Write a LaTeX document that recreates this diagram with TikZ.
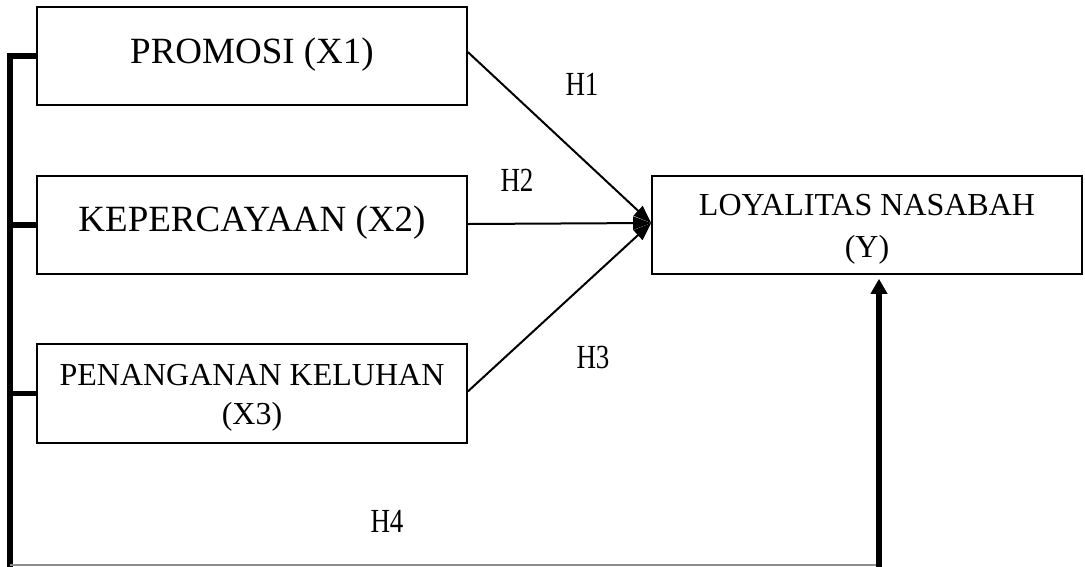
\documentclass[tikz,border=0pt]{standalone}
\usepackage{fontspec}
\setmainfont{Liberation Serif}
\usetikzlibrary{arrows.meta}
\newcommand{\tallH}[1]{\scalebox{1}[1.25]{#1}}
\begin{document}
\begin{tikzpicture}[x=1pt,y=-1pt,
  box/.style={draw, line width=1.6pt, rectangle, minimum width=430pt,
    minimum height=98pt, inner sep=0pt},
  bigtext/.style={font=\fontsize{37}{44}\selectfont, anchor=base, inner sep=0pt},
  midtext/.style={font=\fontsize{32}{38}\selectfont, anchor=base, inner sep=0pt},
  hyptext/.style={font=\fontsize{27}{32}\selectfont, anchor=base, inner sep=0pt},
  link/.style={line width=2pt, -{Triangle[length=18pt,width=13pt]}},
  bus/.style={line width=5.5pt, line join=miter},
  riser/.style={line width=5.5pt, -{Triangle[length=15pt,width=16pt]}},
  baseline/.style={line width=1.2pt, black!45}]
\useasboundingbox (0,0) rectangle (1085,566);

% variable boxes
\node[box] (x1) at (252,56) {};
\node[box] (x2) at (252,225) {};
\node[box, minimum height=99pt] (x3) at (252,393.5) {};
\node[box] (y)  at (867,225) {};

% box texts
\node[bigtext] (t1) at (252,63) {PROMOSI (X1)};
\node[bigtext] (t2) at (252,231) {KEPERCAYAAN (X2)};
\node[midtext] (t3a) at (252,385) {PENANGANAN KELUHAN};
\node[midtext] (t3b) at (252,424) {(X3)};
\node[midtext] (tya) at (867,215) {LOYALITAS NASABAH};
\node[midtext] (tyb) at (867,257) {(Y)};

% hypothesis labels
\node[hyptext] (h1) at (582,95) {\tallH{H1}};
\node[hyptext] (h2) at (517,191) {\tallH{H2}};
\node[hyptext] (h3) at (593,368) {\tallH{H3}};
\node[hyptext] (h4) at (387,532) {\tallH{H4}};

% partial effects
\coordinate (tip) at ([yshift=2pt]y.west);
\draw[link] ([yshift=4pt]x1.east) -- (tip);
\draw[link] ([yshift=1pt]x2.east) -- (tip);
\draw[link] ([yshift=2pt]x3.east) -- (tip);

% simultaneous effect
\coordinate (bl) at (10,565);
\coordinate (br) at (879,565);
\draw[bus] (x1.west) -- (x1.west -| bl) -- ([yshift=-3pt]bl);
\draw[bus] (x2.west) -- (x2.west -| bl);
\draw[bus] (x3.west) -- (x3.west -| bl);
\draw[baseline] (bl) -- (br);
\draw[riser, shorten >=4pt] ([yshift=-3pt]br) -- (br |- y.south);
\end{tikzpicture}
\end{document}
